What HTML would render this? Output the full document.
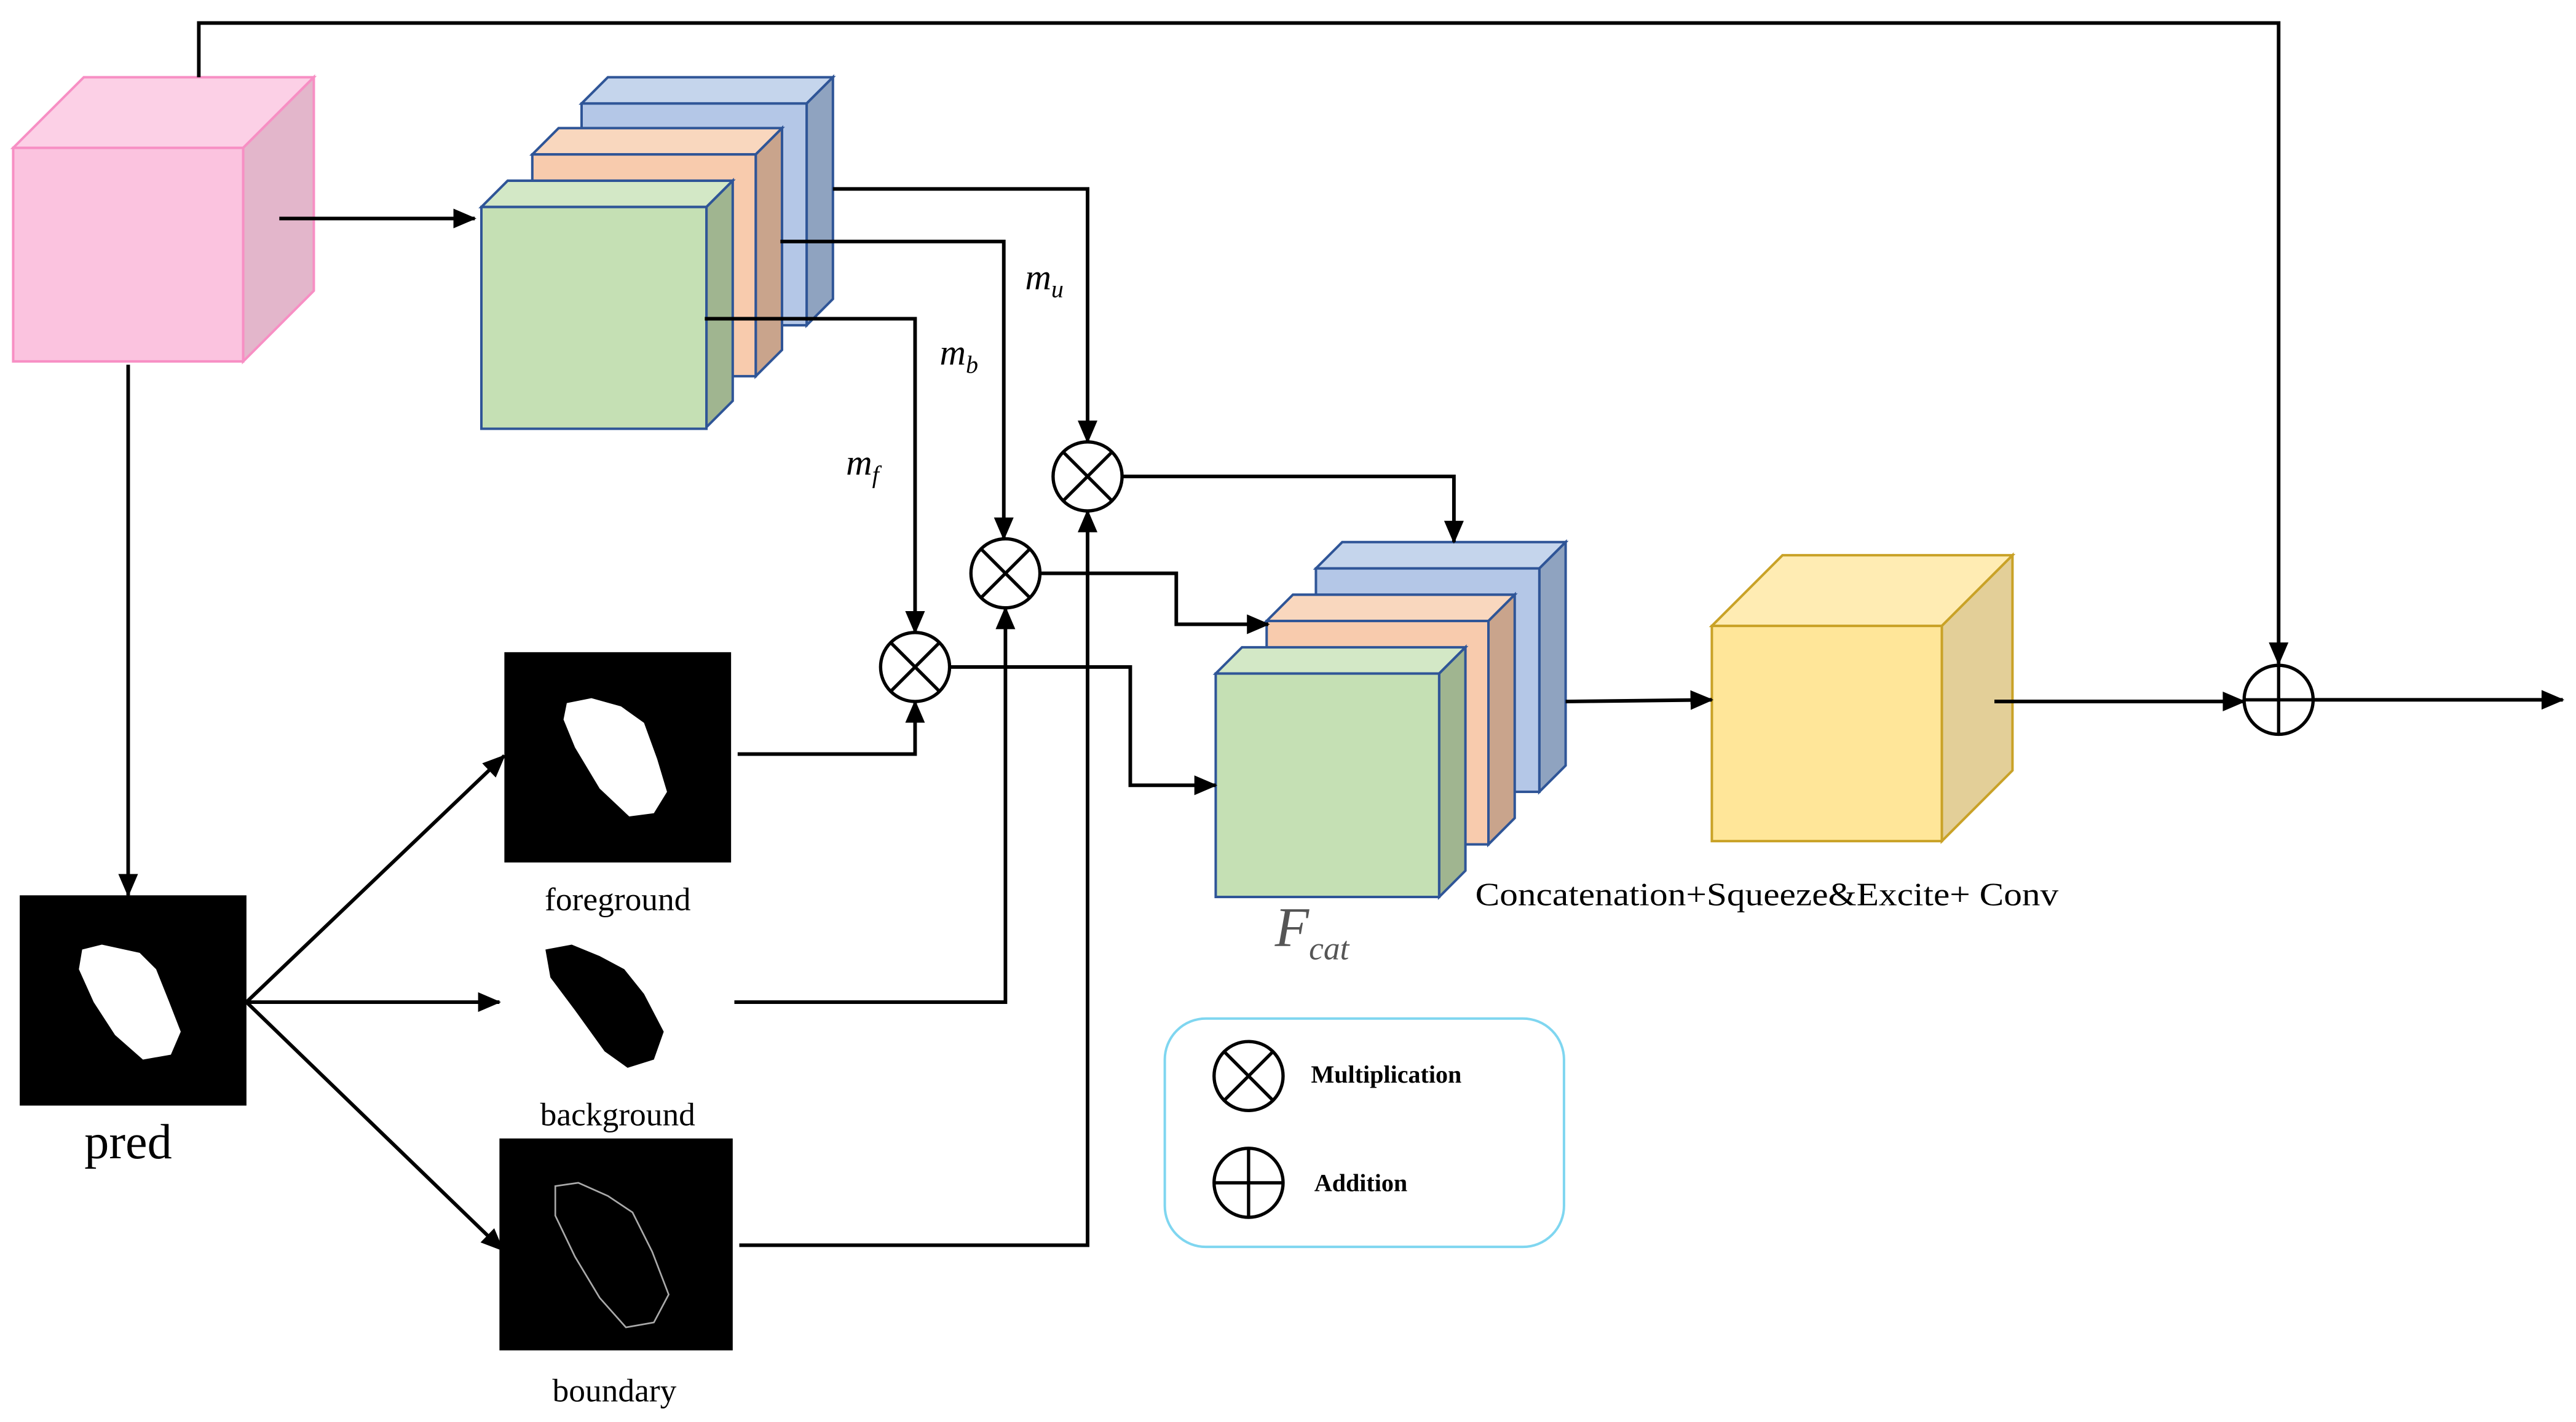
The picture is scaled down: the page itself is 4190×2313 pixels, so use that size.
<!DOCTYPE html>
<html><head><meta charset="utf-8"><style>html,body{margin:0;padding:0;background:#fff;}svg{display:block}</style></head>
<body>
<svg width="4190" height="2313" viewBox="0 0 1568 865.6" xmlns="http://www.w3.org/2000/svg">
<defs>
<marker id="a" markerWidth="14" markerHeight="12" refX="13" refY="6" orient="auto" markerUnits="userSpaceOnUse"><path d="M0,0 L14,6 L0,12 Z" fill="#000"/></marker>
</defs>
<rect width="1568" height="866" fill="#fff"/>
<!-- pink cube -->
<g stroke="#f78fc4" stroke-width="1.5">
<polygon points="8,90 51,47 191,47 148,90" fill="#fcd0e6"/>
<polygon points="148,90 191,47 191,177 148,220" fill="#e3b6cb"/>
<rect x="8" y="90" width="140" height="130" fill="#fbc3df"/>
</g>
<!-- stack 1 -->
<g stroke="#2f5597" stroke-width="1.5">
<polygon points="354,63 370,47 507,47 491,63" fill="#c5d5ec"/>
<polygon points="491,63 507,47 507,182 491,198" fill="#8fa3c0"/>
<rect x="354" y="63" width="137" height="135" fill="#b4c7e7"/>
<polygon points="324,94 340,78 476,78 460,94" fill="#f9d7be"/>
<polygon points="460,94 476,78 476,213 460,229" fill="#c9a48c"/>
<rect x="324" y="94" width="136" height="135" fill="#f8cbad"/>
<polygon points="293,126 309,110 446,110 430,126" fill="#d3e8c6"/>
<polygon points="430,126 446,110 446,244 430,260" fill="#a0b590"/>
<rect x="293" y="126" width="137" height="135" fill="#c5e0b4"/>
</g>
<!-- stack 2 -->
<g stroke="#2f5597" stroke-width="1.5">
<polygon points="801,346 817,330 953,330 937,346" fill="#c5d5ec"/>
<polygon points="937,346 953,330 953,466 937,482" fill="#8fa3c0"/>
<rect x="801" y="346" width="136" height="136" fill="#b4c7e7"/>
<polygon points="771,378 787,362 922,362 906,378" fill="#f9d7be"/>
<polygon points="906,378 922,362 922,498 906,514" fill="#c9a48c"/>
<rect x="771" y="378" width="135" height="136" fill="#f8cbad"/>
<polygon points="740,410 756,394 892,394 876,410" fill="#d3e8c6"/>
<polygon points="876,410 892,394 892,530 876,546" fill="#a0b590"/>
<rect x="740" y="410" width="136" height="136" fill="#c5e0b4"/>
</g>
<!-- yellow cube -->
<g stroke="#c9a227" stroke-width="1.5">
<polygon points="1042,381 1085,338 1225,338 1182,381" fill="#ffecb3"/>
<polygon points="1182,381 1225,338 1225,469 1182,512" fill="#e3cf98"/>
<rect x="1042" y="381" width="140" height="131" fill="#ffe699"/>
</g>
<g fill="none" stroke="#000" stroke-width="2.2">
<polyline points="121,47 121,14 1387,14 1387,404" marker-end="url(#a)"/>
<line x1="170" y1="133" x2="289" y2="133" marker-end="url(#a)"/>
<line x1="78" y1="222" x2="78" y2="545" marker-end="url(#a)"/>
<polyline points="507,115 662,115 662,269" marker-end="url(#a)"/>
<polyline points="475,147 611,147 611,328" marker-end="url(#a)"/>
<polyline points="429,194 557,194 557,385" marker-end="url(#a)"/>
<polyline points="683,290 885,290 885,330" marker-end="url(#a)"/>
<polyline points="633,349 716,349 716,380 772,380" marker-end="url(#a)"/>
<polyline points="578,406 688,406 688,478 740,478" marker-end="url(#a)"/>
<line x1="953" y1="427" x2="1042" y2="426" marker-end="url(#a)"/>
<line x1="1214" y1="427" x2="1366" y2="427" marker-end="url(#a)"/>
<line x1="1408" y1="426" x2="1560" y2="426" marker-end="url(#a)"/>
<line x1="150" y1="610" x2="307" y2="460" marker-end="url(#a)"/>
<line x1="150" y1="610" x2="304" y2="610" marker-end="url(#a)"/>
<line x1="150" y1="610" x2="306" y2="761" marker-end="url(#a)"/>
<polyline points="449,459 557,459 557,427" marker-end="url(#a)"/>
<polyline points="447,610 612,610 612,370" marker-end="url(#a)"/>
<polyline points="450,758 662,758 662,311" marker-end="url(#a)"/>
</g>
<!-- circles -->
<g fill="#fff" stroke="#000" stroke-width="2">
<circle cx="662" cy="290" r="21"/><path d="M647,275 L677,305 M677,275 L647,305"/>
<circle cx="612" cy="349" r="21"/><path d="M597,334 L627,364 M627,334 L597,364"/>
<circle cx="557" cy="406" r="21"/><path d="M542,391 L572,421 M572,391 L542,421"/>
<circle cx="1387" cy="426" r="21"/><path d="M1366,426 L1408,426 M1387,405 L1387,447"/>
</g>
<!-- images -->
<rect x="12" y="545" width="138" height="128" fill="#000"/>
<polygon points="50,578 62,575 85,580 95,590 103,610 110,628 104,642 87,645 70,630 57,610 48,590" fill="#fff"/>
<rect x="307" y="397" width="138" height="128" fill="#000"/>
<polygon points="345,428 360,425 378,430 392,440 400,462 406,482 398,495 383,497 365,480 350,455 343,438" fill="#fff"/>
<polygon points="332,578 348,575 365,582 380,590 392,605 404,628 398,645 382,650 368,640 350,615 335,595" fill="#000"/>
<rect x="304" y="693" width="142" height="129" fill="#000"/>
<polygon points="338,722 352,720 370,728 385,738 397,762 407,788 398,805 381,808 365,790 350,765 338,740" fill="none" stroke="#aaa" stroke-width="1"/>
<!-- labels -->
<g font-family="Liberation Serif, serif" fill="#000">
<text x="624" y="176" font-size="22" font-style="italic">m<tspan font-size="15" dy="5">u</tspan></text>
<text x="572" y="222" font-size="22" font-style="italic">m<tspan font-size="15" dy="5">b</tspan></text>
<text x="515" y="289" font-size="22" font-style="italic">m<tspan font-size="15" dy="5">f</tspan></text>
<text x="776" y="576" font-size="34" font-style="italic" fill="#555">F<tspan font-size="20" dy="8">cat</tspan></text>
<text x="898" y="551" font-size="20" textLength="355" lengthAdjust="spacingAndGlyphs">Concatenation+Squeeze&amp;Excite+ Conv</text>
<text x="78" y="705" font-size="30" text-anchor="middle">pred</text>
<text x="376" y="554" font-size="20" text-anchor="middle">foreground</text>
<text x="376" y="685" font-size="20" text-anchor="middle">background</text>
<text x="374" y="853" font-size="20" text-anchor="middle">boundary</text>
</g>
<!-- legend -->
<rect x="709" y="620" width="243" height="139" rx="25" fill="#fff" stroke="#7fd6f0" stroke-width="1.5"/>
<g fill="none" stroke="#000" stroke-width="2">
<circle cx="760" cy="655" r="21"/><path d="M745,640 L775,670 M775,640 L745,670"/>
<circle cx="760" cy="720" r="21"/><path d="M739,720 L781,720 M760,699 L760,741"/>
</g>
<g font-family="Liberation Serif, serif" font-weight="bold" font-size="15">
<text x="798" y="659">Multiplication</text>
<text x="800" y="725">Addition</text>
</g>
</svg>
</body></html>
